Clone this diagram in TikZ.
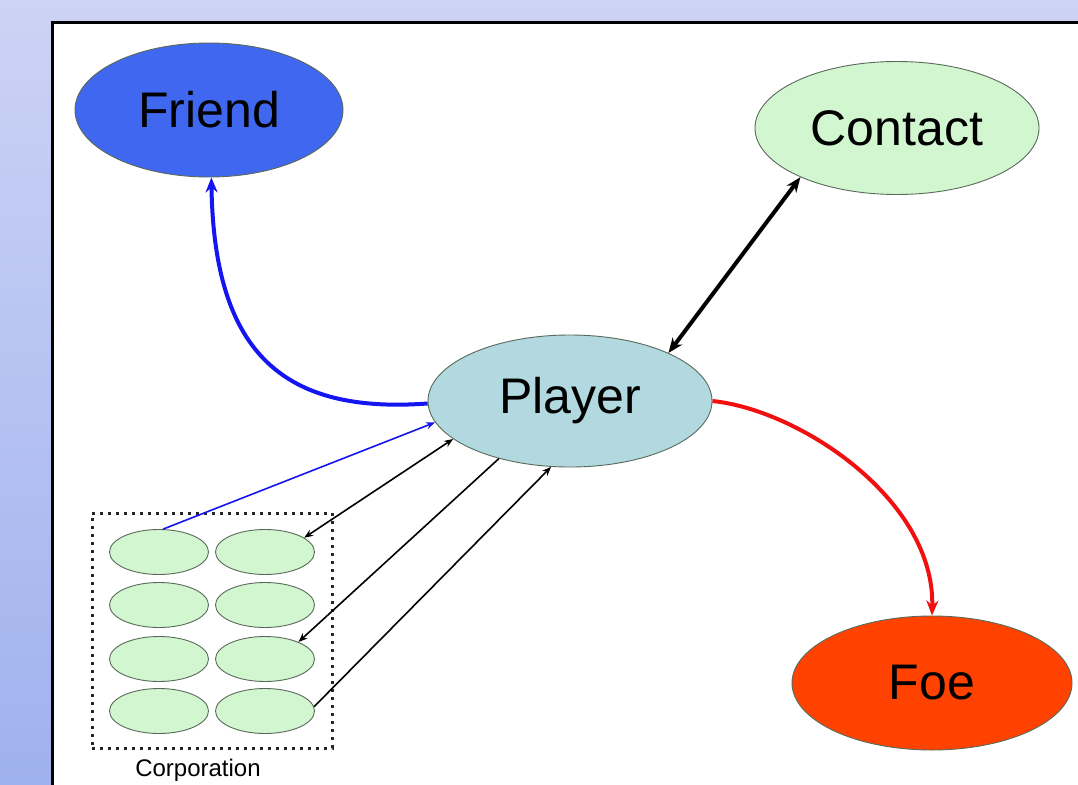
\documentclass[tikz,border=0pt]{standalone}
\usepackage{fontspec}
\setmainfont{Liberation Sans}
\usetikzlibrary{shapes.geometric,arrows.meta}
\definecolor{bgtop}{HTML}{CCD3F4}
\definecolor{bgbot}{HTML}{9FB1EE}
\definecolor{friendblue}{HTML}{3F67F0}
\definecolor{contactgreen}{HTML}{D2F7D0}
\definecolor{playerblue}{HTML}{B2D8E0}
\definecolor{foered}{HTML}{FF4200}
\definecolor{edgegray}{HTML}{5A6A5A}
\definecolor{arrowblue}{HTML}{1515F0}
\definecolor{arrowred}{HTML}{F01010}
\tikzset{
  bignode/.style={ellipse, draw=edgegray, line width=0.9pt, inner sep=0pt,
    minimum width=282pt, minimum height=133pt,
    font=\fontsize{50}{60}\selectfont},
  smallnode/.style={ellipse, draw=edgegray, line width=0.9pt, inner sep=0pt,
    fill=contactgreen, minimum width=99pt, minimum height=45pt},
  corpbox/.style={draw=black!85, line width=3pt, dash pattern=on 3pt off 5pt,
    minimum width=240pt, minimum height=235pt, inner sep=0pt},
  thickarrow/.style={line width=4pt, -{Stealth[length=15pt,width=12pt]}},
  thickdouble/.style={line width=4pt, {Stealth[length=15pt,width=12pt]}-{Stealth[length=15pt,width=12pt]}},
  thinarrow/.style={line width=1.6pt, -{Stealth[length=9pt,width=7pt]}},
  thindouble/.style={line width=1.6pt, {Stealth[length=9pt,width=7pt]}-{Stealth[length=9pt,width=7pt]}},
}
\begin{document}
\begin{tikzpicture}[x=1pt,y=-1pt]
\shade[top color=bgtop, bottom color=bgbot] (0,0) rectangle (1078,784);
\useasboundingbox (0,0) rectangle (1078,784);
\fill[white] (52,23) rectangle (1082,788);
\draw[line width=3pt] (52,790) -- (52,23) -- (1082,23);

\node[bignode, fill=friendblue, minimum width=268pt, minimum height=134pt] (friend) at (209,110) {Friend};
\node[bignode, fill=contactgreen, minimum width=284pt, minimum height=133pt] (contact) at (897,128) {Contact};
\node[bignode, fill=playerblue, minimum width=284pt, minimum height=132pt] (player) at (570,401) {Player};
\node[bignode, fill=foered, minimum width=280pt, minimum height=134pt] (foe) at (932,683) {Foe};

\node[corpbox] (corp) at (212,630.5) {};
\node[anchor=base, font=\fontsize{24}{28}\selectfont] (corplabel) at (198,776) {Corporation};

\node[smallnode] (c11) at (159,552) {};
\node[smallnode] (c12) at (265,552) {};
\node[smallnode] (c21) at (159,605) {};
\node[smallnode] (c22) at (265,605) {};
\node[smallnode] (c31) at (159,659) {};
\node[smallnode] (c32) at (265,659) {};
\node[smallnode] (c41) at (159,711) {};
\node[smallnode] (c42) at (265,711) {};

\draw[thickarrow, arrowblue] (player.181) .. controls (285,414) and (214,355) .. (friend.-88);
\draw[thickarrow, arrowred] (player.east) .. controls (800,410) and (935,500) .. (foe.north);
\draw[thickdouble, black] (player.26) -- (contact.207);

\draw[thinarrow, arrowblue] (c11.80) -- (player.189);
\draw[thindouble, black] (player.198) -- (c12.20);
\draw[thinarrow, black] (player.219) -- (c32.27);
\draw[thinarrow, black] (c42.5) -- (player.254);
\end{tikzpicture}
\end{document}
